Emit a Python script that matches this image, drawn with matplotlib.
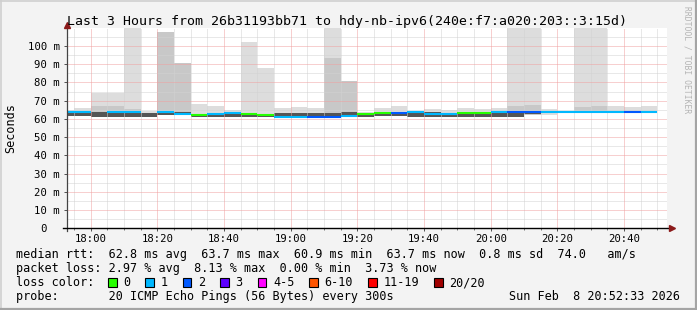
import numpy as np
import matplotlib
matplotlib.use("Agg")
import matplotlib.pyplot as plt
from matplotlib.lines import Line2D
from matplotlib.patches import Rectangle

# ---------------- data (5-minute steps, value in ms) ----------------
step_start = ["17:50", "17:55", "18:00", "18:05", "18:10", "18:15", "18:20", "18:25",
              "18:30", "18:35", "18:40", "18:45", "18:50", "18:55", "19:00", "19:05",
              "19:10", "19:15", "19:20", "19:25", "19:30", "19:35", "19:40", "19:45",
              "19:50", "19:55", "20:00", "20:05", "20:10", "20:15", "20:20", "20:25",
              "20:30", "20:35", "20:40", "20:45"]
smoke_max = [64.8, 65.9, 74.3, 74.3, 118.0, 64.3, 107.5, 90.4, 68.1, 67.0, 64.8, 102.0,
             87.8, 65.9, 66.3, 66.2, 118.0, 80.7, 63.7, 65.9, 67.0, 64.4, 65.5, 64.8,
             65.9, 65.4, 65.9, 118.0, 118.0, 65.5, 64.2, 118.0, 118.0, 67.0, 66.6, 67.0]
smoke_mid = [np.nan, np.nan, 67.0, 67.0, 65.5, np.nan, 107.5, 90.4, np.nan, np.nan, np.nan, np.nan,
             np.nan, np.nan, np.nan, np.nan, 93.3, 80.7, np.nan, np.nan, np.nan, np.nan, np.nan, np.nan,
             np.nan, np.nan, np.nan, 67.0, 67.7, np.nan, np.nan, 66.6, 67.0, np.nan, np.nan, np.nan]
smoke_min = [61.5, 61.4, 61.0, 61.1, 61.1, 61.1, 62.3, 62.2, 61.2, 61.2, 61.2, 61.2,
             61.2, 60.8, 60.8, 60.7, 60.6, 61.2, 61.2, 61.4, 61.4, 61.2, 61.2, 61.2,
             61.2, 61.2, 61.2, 61.2, 62.1, 62.1, 63.2, 63.0, 63.0, 63.0, 63.0, 63.0]
dark_lo = [61.5, 61.4, 61.0, 61.1, 61.1, 61.1, 62.3, 63.1, 61.2, 61.2, 61.2, 61.2,
           61.2, 61.7, 61.7, 61.6, 61.5, 62.4, 61.2, 61.4, 61.4, 61.2, 61.2, 61.2,
           61.2, 61.2, 61.2, 61.2, 62.6, np.nan, np.nan, np.nan, np.nan, np.nan, np.nan, np.nan]
dark_hi = [63.6, 63.5, 63.6, 63.7, 63.5, 63.3, 63.0, 63.9, 62.4, 62.9, 63.0, 62.5,
           62.1, 63.3, 63.3, 63.3, 63.3, 63.7, 62.8, 63.4, 63.3, 63.7, 63.9, 62.9,
           63.3, 63.3, 63.7, 63.6, 63.6, np.nan, np.nan, np.nan, np.nan, np.nan, np.nan, np.nan]
median_rtt = [63.6, 63.5, np.nan, 63.7, 63.5, np.nan, 63.6, 62.6, 62.4, 62.9, 63.0, 62.5,
              62.1, 61.1, 61.1, 61.0, 60.9, 61.8, 62.8, 63.4, 63.3, 63.7, 62.5, 62.9,
              63.3, 63.3, 63.7, 63.6, 63.6, 63.7, 63.7, 63.7, 63.7, 63.7, 63.7, 63.7]
lost_pings = [1, 1, np.nan, 1, 1, np.nan, 1, 1, 0, 1, 1, 0,
              0, 1, 1, 2, 2, 1, 0, 0, 2, 1, 1, 1,
              0, 0, 1, 2, 2, 1, 1, 1, 1, 1, 2, 1]

loss_labels = ["0", "1", "2", "3", "4-5", "6-10", "11-19", "20/20"]
loss_upper = [0, 1, 2, 3, 5, 10, 19, 20]
loss_colors = ["#26ff00", "#00b8ff", "#0059ff", "#5e00ff", "#ff00ff", "#ff5500", "#ff0000", "#a00000"]

y_ticks = [0, 10, 20, 30, 40, 50, 60, 70, 80, 90, 100]
x_tick_labels = ["18:00", "18:20", "18:40", "19:00", "19:20", "19:40", "20:00", "20:20", "20:40"]

title = "Last 3 Hours from 26b31193bb71 to hdy-nb-ipv6(240e:f7:a020:203::3:15d)"
legend_rtt = "median rtt:  62.8 ms avg  63.7 ms max  60.9 ms min  63.7 ms now  0.8 ms sd  74.0   am/s"
legend_loss = "packet loss: 2.97 % avg  8.13 % max  0.00 % min  3.73 % now"
legend_probe = "probe:       20 ICMP Echo Pings (56 Bytes) every 300s"
stamp = "Sun Feb  8 20:52:33 2026"

# ---------------- helpers ----------------
def to_min(s):
    h, m = s.split(":")
    return int(h) * 60 + int(m)

W, H = 697, 310
MONO = "DejaVu Sans Mono"
plt.rcParams['font.family'] = [MONO, 'DejaVu Sans']

fig = plt.figure(figsize=(W / 100, H / 100), dpi=100)
fig.patch.set_facecolor('#f3f3f3')

def fx(px):
    return px / W

def fy(py):
    return 1 - py / H

L, R, T, B = 66.5, 667.0, 27.7, 228.3
ax = fig.add_axes([fx(L), fy(B), fx(R) - fx(L), fy(T) - fy(B)])
ax.set_facecolor('white')

x0 = np.array([to_min(s) for s in step_start], dtype=float)
smax = np.array(smoke_max)
smid = np.array(smoke_mid)
smin = np.array(smoke_min)
dlo = np.array(dark_lo)
dhi = np.array(dark_hi)
med = np.array(median_rtt)
lost = np.array(lost_pings, dtype=float)
STEP = 5

# smoke
ax.bar(x0, smax - smin, bottom=smin, width=STEP, align='edge', color='#dddddd', linewidth=0, zorder=1)
m = ~np.isnan(smid)
ax.bar(x0[m], smid[m] - smin[m], bottom=smin[m], width=STEP, align='edge', color='#c8c8c8', linewidth=0, zorder=1.1)
m = ~np.isnan(dlo)
ax.bar(x0[m], dhi[m] - dlo[m], bottom=dlo[m], width=STEP, align='edge', color='#555555', linewidth=0, zorder=1.2)

# median line coloured by loss
def loss_color(v):
    for ub, c in zip(loss_upper, loss_colors):
        if v <= ub:
            return c
    return loss_colors[-1]

m = ~np.isnan(lost) & ~np.isnan(med)
ax.hlines(med[m], x0[m], x0[m] + STEP, colors=[loss_color(v) for v in lost[m]],
          linewidth=1.5, capstyle='butt', zorder=4)

# axes ranges
ax.set_ylim(0, 110)
ax.set_xlim(1072.75, 1252.9)

# grid (rrdtool draws it on top of the smoke)
dot = (0, (1, 1))
xmaj = [to_min(s) for s in x_tick_labels]
gkw = dict(lw=0.72, ls=dot)
for v in range(5, 110, 5):
    if v % 10:
        ax.axhline(v, color='#d2d2d2', zorder=2, **gkw)
for v in np.arange(1075, 1253, 5):
    if v not in xmaj:
        ax.axvline(v, color='#d2d2d2', zorder=2, **gkw)
for v in y_ticks[1:]:
    ax.axhline(v, color='#f0a0a0', zorder=2.1, **gkw)
for v in xmaj:
    ax.axvline(v, color='#f0a0a0', zorder=2.1, **gkw)

for s in ax.spines.values():
    s.set_visible(False)

ax.set_yticks(y_ticks)
ax.set_yticklabels([f"{v} m" if v else "0  " for v in y_ticks])
ax.set_xticks(xmaj)
ax.set_xticklabels(x_tick_labels)
ax.set_xticks(np.arange(1075, 1253, 5), minor=True)
ax.tick_params(axis='y', which='major', direction='out', length=2.2, width=0.72, color='#555555',
               pad=2.5, labelsize=7.7)
ax.tick_params(axis='x', which='major', direction='out', length=2.2, width=0.72, color='#555555',
               pad=2.0, labelsize=7.7)
ax.tick_params(axis='x', which='minor', direction='out', length=1.4, width=0.72, color='#777777')

# axis lines and arrows
ax.add_line(Line2D([0, 0], [-0.012, 1.0], transform=ax.transAxes, color='#444444', lw=0.9,
                   clip_on=False, zorder=5))
ax.add_line(Line2D([-0.006, 1.005], [0, 0], transform=ax.transAxes, color='black', lw=1.0,
                   clip_on=False, zorder=5))
ax.plot([0], [1.015], transform=ax.transAxes, marker='^', ms=4.5, color='#8b1a1a', clip_on=False, zorder=6)
ax.plot([1.008], [0], transform=ax.transAxes, marker='>', ms=4.5, color='#8b1a1a', clip_on=False, zorder=6)

# texts
fig.text(fx(347), fy(25), title, ha='center', va='baseline', fontsize=9.5, family=MONO)
fig.text(fx(10.5), fy(128), "Seconds", rotation=90, ha='center', va='center', fontsize=8.5, family=MONO)
fig.text(fx(687), fy(60), "RRDTOOL / TOBI OETIKER", rotation=270, ha='center', va='center',
         fontsize=5.8, family=MONO, color='#b4b4b4')

CW = 7.12
LX = 16
fig.text(fx(LX), fy(258.3), legend_rtt, ha='left', va='baseline', fontsize=8.5, family=MONO)
fig.text(fx(LX), fy(272.3), legend_loss, ha='left', va='baseline', fontsize=8.5, family=MONO)
fig.text(fx(LX), fy(286.3), "loss color:", ha='left', va='baseline', fontsize=8.5, family=MONO)
fig.text(fx(LX), fy(300.0), legend_probe, ha='left', va='baseline', fontsize=8.5, family=MONO)
fig.text(fx(680), fy(300.0), stamp, ha='right', va='baseline', fontsize=8.5, family=MONO)

bx = LX + 13 * CW - 0.6
for lab, col in zip(loss_labels, loss_colors):
    fig.add_artist(Rectangle((fx(bx), fy(286.8)), fx(8.6), 8.6 / H, facecolor=col,
                             edgecolor='black', linewidth=0.8, transform=fig.transFigure))
    tx = bx + 15.3
    fig.text(fx(tx), fy(286.3), lab, ha='left', va='baseline', fontsize=8.5, family=MONO)
    bx = tx + len(lab) * CW + 15.0

# frame
fig.add_artist(Line2D([0, 1], [fy(0.7), fy(0.7)], color='#d0d0d0', lw=1.2, transform=fig.transFigure))
fig.add_artist(Line2D([fx(0.7), fx(0.7)], [0, 1], color='#d0d0d0', lw=1.2, transform=fig.transFigure))
fig.add_artist(Line2D([0, 1], [fy(309), fy(309)], color='#a4a4a4', lw=1.6, transform=fig.transFigure))
fig.add_artist(Line2D([fx(696), fx(696)], [0, 1], color='#a4a4a4', lw=1.6, transform=fig.transFigure))

fig.savefig("out.png", dpi=100, facecolor=fig.get_facecolor())
